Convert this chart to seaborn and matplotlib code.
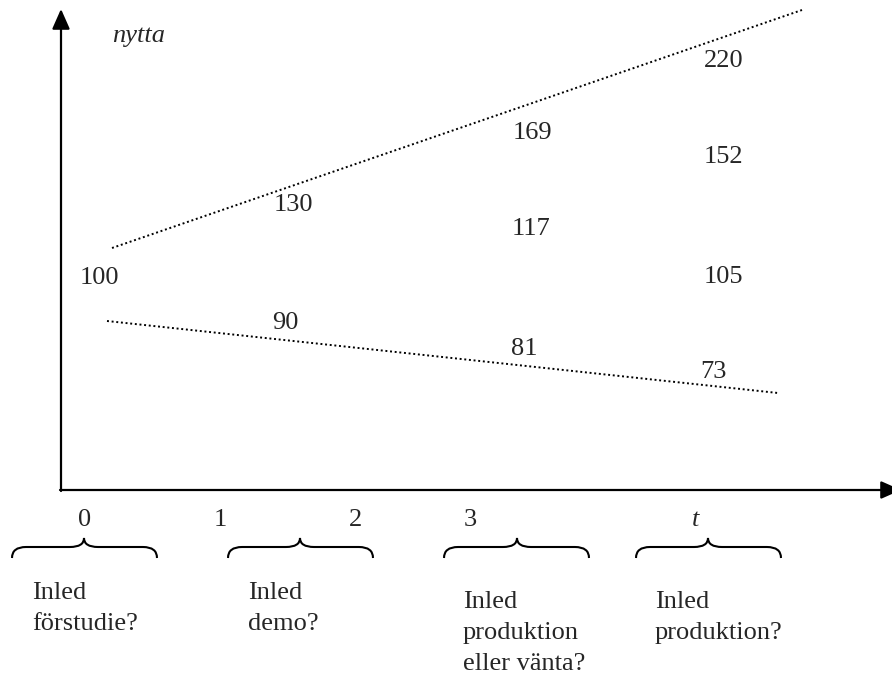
import matplotlib
matplotlib.use("Agg")
import matplotlib.pyplot as plt
from matplotlib.path import Path
from matplotlib.patches import PathPatch
import numpy as np
import pandas as pd
import seaborn as sns

# schematic in picture units (x right, y down)
upper_x = [112, 802]
upper_y = [248, 10]
lower_x = [107, 778]
lower_y = [321, 393]

values = ["100", "130", "90", "169", "117", "81", "220", "152", "105", "73"]
value_x = [80, 274, 272, 513, 512, 511, 704, 704, 704, 700]
value_y = [278, 205, 323, 133, 229, 349, 61, 157, 277, 372]

tick_labels = ["0", "1", "2", "3", "t"]
tick_x = [85, 220, 355, 470, 696]

brace_left = [12, 228, 444, 636]
brace_right = [157, 373, 589, 781]
brace_tip = [84, 300, 517, 708]

decisions = ["Inled\nförstudie?", "Inled\ndemo?",
             "Inled\nproduktion\neller vänta?", "Inled\nproduktion?"]
decision_x = [32, 248, 463, 655]
decision_y = [593, 593, 602, 602]

FS = 19

sns.set_theme(style="white")
plt.rcParams['font.family'] = ['Liberation Serif', 'DejaVu Serif']

fig = plt.figure(figsize=(8.92, 6.74), dpi=100)
ax = fig.add_axes([0, 0, 1, 1])
ax.set_xlim(0, 892)
ax.set_ylim(674, 0)
ax.axis('off')

lines = pd.DataFrame({
    'x': upper_x + lower_x,
    'y': upper_y + lower_y,
    'scenario': ['upp'] * 2 + ['ned'] * 2,
})
sns.lineplot(data=lines, x='x', y='y', units='scenario', estimator=None,
             color='black', lw=1.4, linestyle=(0, (1, 1.4)), ax=ax, legend=False)

# axes with arrow heads
arrow = dict(arrowstyle='-|>,head_length=1.22,head_width=0.54', lw=1.6,
             color='black', shrinkA=0, shrinkB=0, mutation_scale=10)
ax.annotate('', xy=(61, 9), xytext=(61, 491), arrowprops=arrow, annotation_clip=False)
ax.annotate('', xy=(901, 490), xytext=(60, 490), arrowprops=arrow, annotation_clip=False)

ax.text(112, 36, 'nytta', fontsize=FS, style='italic', va='center', ha='left')

for v, x, y in zip(values, value_x, value_y):
    ax.text(x, y, v, fontsize=FS, va='center', ha='left')

for lab, x in zip(tick_labels, tick_x):
    ax.text(x, 520, lab, fontsize=FS, va='center', ha='center',
            style='italic' if lab == 't' else 'normal')


def brace(x0, x1, xc, yb=558, ym=547, yt=538, r=14):
    verts = [(x0, yb), (x0, ym), (x0 + r, ym),
             (xc - r, ym), (xc, ym), (xc, yt),
             (xc, ym), (xc + r, ym),
             (x1 - r, ym), (x1, ym), (x1, yb)]
    codes = [Path.MOVETO, Path.CURVE3, Path.CURVE3,
             Path.LINETO, Path.CURVE3, Path.CURVE3,
             Path.CURVE3, Path.CURVE3,
             Path.LINETO, Path.CURVE3, Path.CURVE3]
    ax.add_patch(PathPatch(Path(verts, codes), fill=False, lw=1.5, color='black'))


for x0, x1, xc in zip(brace_left, brace_right, brace_tip):
    brace(x0, x1, xc)

# one text per line so the line pitch matches the reference (~31 px)
for txt, x, y in zip(decisions, decision_x, decision_y):
    for i, row in enumerate(txt.split('\n')):
        ax.text(x, y + 31 * i, row, fontsize=FS, va='center', ha='left')

fig.savefig('out.png', dpi=100)
